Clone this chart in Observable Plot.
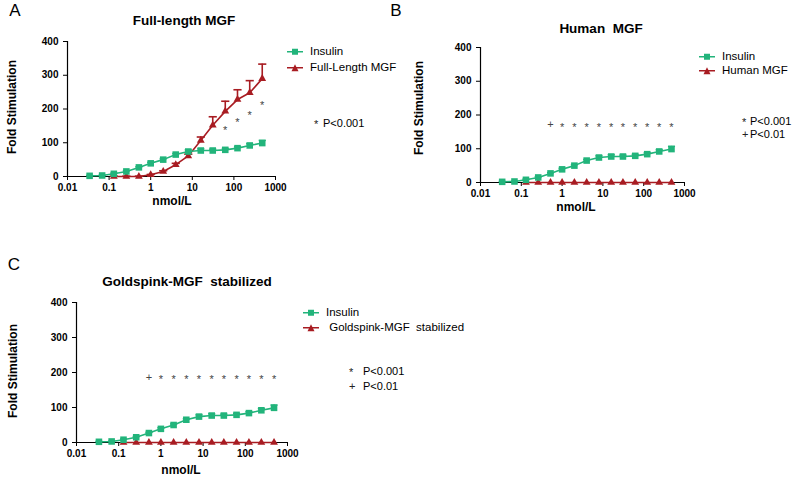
<!DOCTYPE html>
<html><head><meta charset="utf-8">
<script src="https://cdn.jsdelivr.net/npm/d3@7"></script>
<script src="https://cdn.jsdelivr.net/npm/@observablehq/plot@0.6"></script>
<style>
body{margin:0;background:#fff;}
#fig{position:relative;width:800px;height:477px;overflow:hidden;font-family:"Liberation Sans",Arial,sans-serif;color:#000;background:#fff;}
.t{position:absolute;white-space:pre;line-height:1;}
.pw{position:absolute;}
</style></head><body><div id="fig"></div>
<script>
// ---- data ----
const conc = [0.034, 0.068, 0.13, 0.26, 0.52, 1.0, 2.0, 4.0, 8.0, 16, 31, 62, 122, 240, 480];
const insulin    = [2, 3, 8, 15, 27, 39, 50, 65, 74, 77, 77, 79, 84, 92, 99];
const insulinErr = [1, 1, 2, 2, 2, 3, 3, 3, 5, 5, 4, 4, 4, 5, 8];
const fullLength    = [null, null, 0, 0, 0, 5, 15, 35, 61, 107, 152, 193, 228, 248, 290];
const fullLengthErr = [null, null, 1, 1, 1, 1, 2, 4, 5, 10, 25, 30, 29, 36, 43];
const humanMGF     = [null, null, 0, 0, 0, 0, 0, 0, 0, 0, 0, 0, 0, 0, 0];
const goldspinkMGF = [null, null, 0, 0, 0, 0, 0, 0, 0, 0, 0, 0, 0, 0, 0];
const sigA  = ["", "", "", "", "", "", "", "", "", "", "", "*", "*", "*", "*"];
const sigAY = [null, null, null, null, null, null, null, null, null, null, null, 146, 168, 189, 219];
const sigB  = ["", "", "", "", "+", "*", "*", "*", "*", "*", "*", "*", "*", "*", "*"];
const sigBY = [null, null, null, null, 171, 171, 171, 171, 171, 171, 171, 171, 171, 171, 171];
const sigC  = ["", "", "", "", "+", "*", "*", "*", "*", "*", "*", "*", "*", "*", "*"];
const sigCY = [null, null, null, null, 186, 189, 189, 189, 189, 189, 189, 189, 189, 189, 189];
const xTicks = [0.01, 0.1, 1, 10, 100, 1000];
const xTickLabels = ["0.01", "0.1", "1", "10", "100", "1000"];
const yTicks = [0, 100, 200, 300, 400];

const GREEN = "#22b47b", RED = "#a81c22";
const FONT = '"Liberation Sans", Arial, sans-serif';
const fig = document.getElementById("fig");

const cap = {draw(ctx, size) { const w = Math.sqrt(size); ctx.moveTo(-w, 0); ctx.lineTo(w, 0); }};

function rows(vals, errs) {
  return conc.map((x, i) => ({x, y: vals[i], top: vals[i] == null ? null : vals[i] + (errs ? errs[i] : 0)}))
             .filter(d => d.y != null);
}
function sigRows(s, sy) {
  return conc.map((x, i) => ({x, y: sy[i], t: s[i]})).filter(d => d.t);
}

function panel(o) {
  const ins = rows(insulin, insulinErr);
  const mgf = rows(o.vals, o.errs);
  const sg = sigRows(o.sig, o.sigY);
  const marks = [
    Plot.axisY({ticks: yTicks, tickSize: 4, tickPadding: 5, label: null}),
    Plot.axisX({ticks: xTicks, tickFormat: d => xTickLabels[xTicks.indexOf(d)], tickSize: 4, tickPadding: 3, label: null}),
    Plot.ruleX([0.01], {y1: 0, y2: 400, stroke: "#000", strokeWidth: 1.2}),
    Plot.ruleY([0], {stroke: "#000", strokeWidth: 1.2}),
  ];
  if (o.errs) {
    marks.push(Plot.ruleX(mgf, {x: "x", y1: "y", y2: "top", stroke: RED, strokeWidth: 1.6}));
    marks.push(Plot.dot(mgf, {x: "x", y: "top", symbol: cap, r: 2.3, stroke: RED, strokeWidth: 1.6}));
  }
  marks.push(
    Plot.line(mgf, {x: "x", y: "y", stroke: RED, strokeWidth: 1.6}),
    Plot.dot(mgf, {x: "x", y: "y", symbol: "triangle", r: 2.9, fill: RED, stroke: "none"}),
    Plot.ruleX(ins, {x: "x", y1: "y", y2: "top", stroke: GREEN, strokeWidth: 1.5}),
    Plot.dot(ins, {x: "x", y: "top", symbol: cap, r: 2, stroke: GREEN, strokeWidth: 1.5}),
    Plot.line(ins, {x: "x", y: "y", stroke: GREEN, strokeWidth: 1.6}),
    Plot.dot(ins, {x: "x", y: "y", symbol: "square", r: 3.7, fill: GREEN, stroke: "none"}),
    Plot.text(sg.filter(d => d.t === "*"), {x: "x", y: "y", text: "t", fontSize: 11, fontWeight: "normal", fill: "#444", dy: 3}),
    Plot.text(sg.filter(d => d.t === "+"), {x: "x", y: "y", text: "t", fontSize: 11, fontWeight: "normal", fill: "#444", dy: 0})
  );
  const p = Plot.plot({
    width: o.width, height: o.height,
    marginLeft: o.ml, marginRight: o.mr, marginTop: o.mt, marginBottom: o.mb,
    style: {fontFamily: FONT, fontSize: "10px", fontWeight: "bold", color: "#000", background: "transparent", overflow: "visible"},
    x: {type: "log", domain: [0.01, 1000]},
    y: {domain: [0, 400]},
    marks
  });
  const w = document.createElement("div");
  w.className = "pw";
  w.style.left = o.left + "px"; w.style.top = o.top + "px";
  w.appendChild(p);
  fig.appendChild(w);
}

function txt(s, x, y, o = {}) {
  const d = document.createElement("div");
  d.className = "t";
  d.textContent = s;
  d.style.left = x + "px"; d.style.top = y + "px";
  d.style.fontSize = (o.size || 12) + "px";
  d.style.fontWeight = o.bold ? "bold" : "normal";
  if (o.color) d.style.color = o.color;
  const tx = o.anchor === "start" ? "0" : "-50%";
  d.style.transform = `translate(${tx},-50%)` + (o.rotate ? " rotate(-90deg)" : "");
  fig.appendChild(d);
}

function legendItem(x, y, color, shape, label) {
  const d = document.createElement("div");
  d.className = "t";
  d.style.left = x + "px"; d.style.top = y + "px";
  d.style.transform = "translate(0,-50%)";
  d.style.display = "flex"; d.style.alignItems = "center";
  d.style.fontSize = "11.5px";
  const m = shape === "square"
    ? `<rect x="5" y="1.5" width="6" height="6" fill="${color}"/>`
    : `<polygon points="8,1 11.5,8 4.5,8" fill="${color}"/>`;
  d.innerHTML = `<svg width="16" height="9" style="display:block"><line x1="0" x2="16" y1="4.5" y2="4.5" stroke="${color}" stroke-width="1.6"/>${m}</svg><span style="margin-left:7px">${label}</span>`;
  fig.appendChild(d);
}

// Panel A
panel({left: 0, top: 0, width: 290, height: 215, ml: 67, mr: 15, mt: 41, mb: 39,
       vals: fullLength, errs: fullLengthErr, sig: sigA, sigY: sigAY});
// Panel B
panel({left: 400, top: 0, width: 300, height: 215, ml: 80, mr: 16, mt: 47, mb: 33,
       vals: humanMGF, errs: null, sig: sigB, sigY: sigBY});
// Panel C
panel({left: 0, top: 250, width: 300, height: 227, ml: 76, mr: 13, mt: 52, mb: 35,
       vals: goldspinkMGF, errs: null, sig: sigC, sigY: sigCY});

// Panel letters
txt("A", 15, 10, {size: 17});
txt("B", 396, 10, {size: 17});
txt("C", 14, 264, {size: 17});
// Titles
txt("Full-length MGF", 184, 21, {size: 13.5, bold: true});
txt("Human  MGF", 601, 29, {size: 13.5, bold: true});
txt("Goldspink-MGF  stabilized", 187, 282, {size: 13.5, bold: true});
// Axis titles
txt("Fold Stimulation", 12, 107, {size: 12, bold: true, rotate: true});
txt("nmol/L", 172, 201, {size: 12, bold: true});
txt("Fold Stimulation", 419, 108, {size: 12, bold: true, rotate: true});
txt("nmol/L", 576, 207, {size: 12, bold: true});
txt("Fold Stimulation", 13, 371, {size: 12, bold: true, rotate: true});
txt("nmol/L", 181, 470, {size: 12, bold: true});
// Legends
legendItem(287, 52, GREEN, "square", "Insulin");
legendItem(287, 68, RED, "triangle", "Full-Length MGF");
legendItem(699, 57, GREEN, "square", "Insulin");
legendItem(699, 71, RED, "triangle", "Human MGF");
legendItem(303, 313, GREEN, "square", "Insulin");
legendItem(303, 328, RED, "triangle", " Goldspink-MGF  stabilized");
// Notes
txt("*", 314, 124, {size: 11, anchor: "start", color: "#222"});
txt("P<0.001", 323, 123, {size: 11, anchor: "start"});
txt("*", 742, 122, {size: 11, anchor: "start", color: "#222"});
txt("P<0.001", 750, 121, {size: 11, anchor: "start"});
txt("+", 742, 134, {size: 11, anchor: "start", color: "#222"});
txt("P<0.01", 750, 134, {size: 11, anchor: "start"});
txt("*", 349, 372, {size: 11, anchor: "start", color: "#222"});
txt("P<0.001", 363, 371, {size: 11, anchor: "start"});
txt("+", 349, 386, {size: 11, anchor: "start", color: "#222"});
txt("P<0.01", 363, 386, {size: 11, anchor: "start"});
</script></body></html>
